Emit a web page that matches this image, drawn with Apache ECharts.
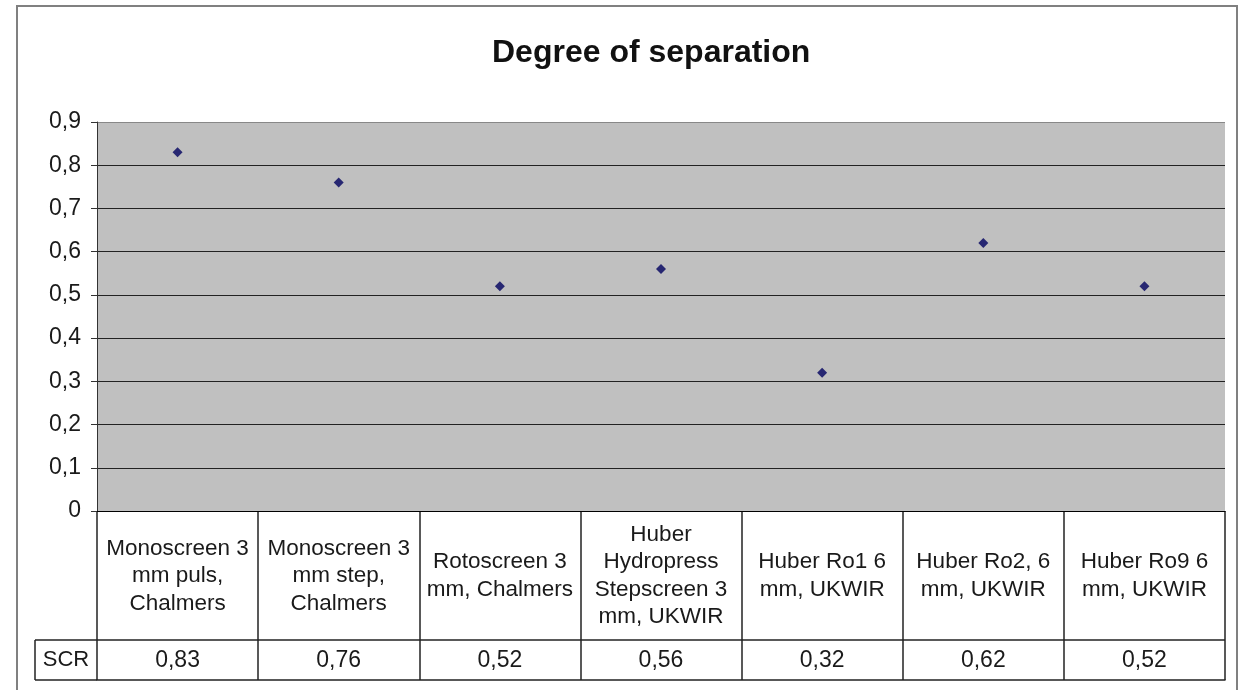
<!DOCTYPE html>
<html>
<head>
<meta charset="utf-8">
<script src="https://cdn.jsdelivr.net/npm/echarts@6/dist/echarts.min.js"></script>
<style>html,body{margin:0;padding:0;background:#fff;}#c{width:1246px;height:690px;}</style>
</head>
<body>
<div id="c"></div>
<script>
const categories = [
  "Monoscreen 3\nmm puls,\nChalmers",
  "Monoscreen 3\nmm step,\nChalmers",
  "Rotoscreen 3\nmm, Chalmers",
  "Huber\nHydropress\nStepscreen 3\nmm, UKWIR",
  "Huber Ro1 6\nmm, UKWIR",
  "Huber Ro2, 6\nmm, UKWIR",
  "Huber Ro9 6\nmm, UKWIR"
];
const scrValues = [0.83, 0.76, 0.52, 0.56, 0.32, 0.62, 0.52];
const seriesName = "SCR";
const yTicks = [0, 0.1, 0.2, 0.3, 0.4, 0.5, 0.6, 0.7, 0.8, 0.9];

const FONT = "Liberation Sans, Arial, sans-serif";
const comma = v => String(v).replace('.', ',');

const L = 97, R = 21, PT = 122, PB = 511, TB = 680, ROW = 640, SCRL = 35;

const chart = echarts.init(document.getElementById('c'));
chart.setOption({
  animation: false,
  backgroundColor: '#fff',
  title: {
    text: 'Degree of separation', left: 487, top: 32,
    textStyle: {fontFamily: FONT, fontSize: 32, fontWeight: 'bold', color: '#111'}
  },
  grid: [
    {left: L, right: R, top: PT, height: PB - PT, show: true, backgroundColor: '#c0c0c0', borderWidth: 0},
    {left: L, right: R, top: PB, height: TB - PB, show: false}
  ],
  xAxis: [
    {
      type: 'category', gridIndex: 0, data: categories,
      axisLine: {show: true, lineStyle: {color: '#000', width: 1}},
      axisTick: {show: false},
      axisLabel: {
        show: true, interval: 0, margin: 65, verticalAlign: 'middle',
        fontFamily: FONT, fontSize: 22.5, lineHeight: 27.5, color: '#1a1a1a'
      },
      splitLine: {show: false}
    },
    {
      type: 'category', gridIndex: 1, data: categories, position: 'bottom',
      axisLine: {show: true, lineStyle: {color: '#222', width: 1.5}},
      axisTick: {show: false},
      splitLine: {show: true, lineStyle: {color: '#222', width: 1.5}},
      axisLabel: {
        show: true, inside: true, interval: 0, margin: 19, verticalAlign: 'middle',
        fontFamily: FONT, fontSize: 23, color: '#1a1a1a',
        formatter: (v, i) => comma(scrValues[i])
      }
    }
  ],
  yAxis: [
    {
      type: 'value', gridIndex: 0, min: 0, max: 0.9, interval: 0.1,
      axisLine: {show: true, lineStyle: {color: '#333', width: 1}},
      axisTick: {show: true, length: 6, lineStyle: {color: '#333'}},
      axisLabel: {
        fontFamily: FONT, fontSize: 23, color: '#1a1a1a', margin: 16,
        formatter: v => comma(+v.toFixed(1))
      },
      splitLine: {show: true, lineStyle: {color: ['#222','#222','#222','#222','#222','#222','#222','#222','#222','#888'], width: 1}}
    },
    {type: 'value', gridIndex: 1, show: false}
  ],
  series: [{
    name: seriesName, type: 'scatter', xAxisIndex: 0, yAxisIndex: 0,
    data: scrValues, symbol: 'diamond', symbolSize: 10,
    itemStyle: {color: '#00005e'}
  }],
  graphic: [
    {type: 'rect', shape: {x: 17, y: 6, width: 1220, height: 720}, style: {fill: 'none', stroke: '#808080', lineWidth: 2}, silent: true},
    {type: 'line', shape: {x1: SCRL, y1: ROW, x2: 1246 - R, y2: ROW}, style: {stroke: '#222', lineWidth: 1.5}},
    {type: 'line', shape: {x1: SCRL, y1: TB, x2: L, y2: TB}, style: {stroke: '#222', lineWidth: 1.5}},
    {type: 'line', shape: {x1: SCRL, y1: ROW, x2: SCRL, y2: TB}, style: {stroke: '#222', lineWidth: 1.5}},
    {type: 'text', x: (SCRL + L) / 2, y: (ROW + TB) / 2, style: {text: seriesName, font: '22px ' + FONT, fill: '#1a1a1a', align: 'center', verticalAlign: 'middle'}}
  ]
});
</script>
</body>
</html>
